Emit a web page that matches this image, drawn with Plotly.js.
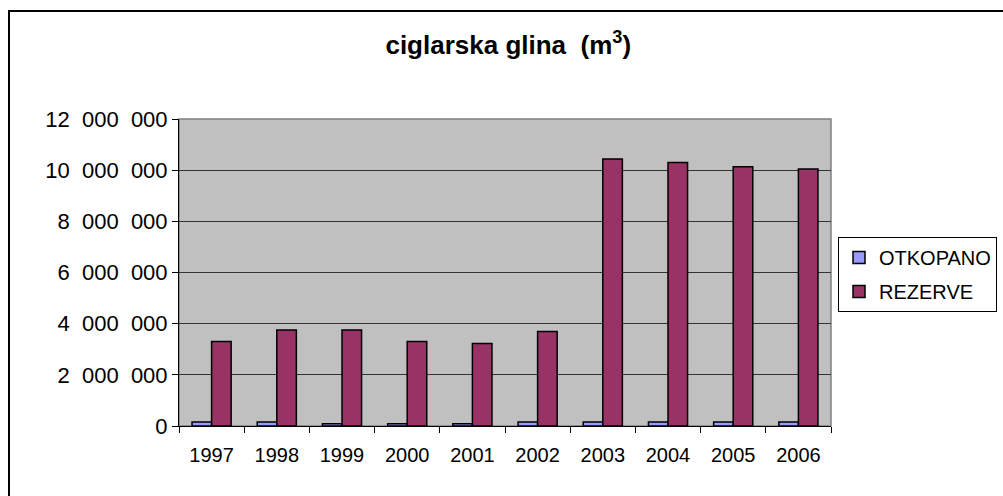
<!DOCTYPE html>
<html>
<head>
<meta charset="utf-8">
<script src="https://cdn.plot.ly/plotly-3.0.1.min.js"></script>
<style>
  html, body { margin: 0; padding: 0; background: #fff; overflow: hidden; }
  #wrap { position: relative; width: 1003px; height: 496px; overflow: hidden; }
  #chart { position: absolute; left: 0; top: 0; width: 1003px; height: 496px; }
  #frame { position: absolute; left: 8px; top: 10px; width: 1100px; height: 600px;
           border: 2px solid #000; pointer-events: none; box-sizing: border-box; }
</style>
</head>
<body>
<div id="wrap">
  <div id="chart"></div>
  <div id="frame"></div>
</div>
<script>
const years = ["1997","1998","1999","2000","2001","2002","2003","2004","2005","2006"];
const otkopano = [160000,160000,90000,90000,90000,160000,160000,160000,160000,160000];
const rezerve = [3300000,3750000,3750000,3300000,3220000,3690000,10440000,10300000,10130000,10050000];
const yTickVals = [0,2000000,4000000,6000000,8000000,10000000,12000000];
const yTickText = ["0","2\u2007000\u2007000","4\u2007000\u2007000","6\u2007000\u2007000","8\u2007000\u2007000","10\u2007000\u2007000","12\u2007000\u2007000"];

const font = "Liberation Sans, Arial, sans-serif";

const traces = [
  { type: "bar", name: "OTKOPANO", x: years, y: otkopano, legendgroup: "a",
    marker: { color: "#9999FF", line: { color: "#000", width: 1.5 } } },
  { type: "bar", name: "REZERVE", x: years, y: rezerve, legendgroup: "b",
    marker: { color: "#993366", line: { color: "#000", width: 1.5 } } }
];

const layout = {
  width: 1003, height: 496,
  margin: { l: 179, r: 172, t: 119, b: 70, pad: 0 },
  paper_bgcolor: "#ffffff",
  plot_bgcolor: "#C0C0C0",
  font: { family: font, color: "#000" },
  title: { text: "<b>ciglarska glina  (m<sup>3</sup>)</b>", font: { size: 26, family: font, color: "#000" },
           x: 0.505, xref: "paper", xanchor: "center", y: 0.91, yanchor: "middle" },
  barmode: "group",
  bargap: 0.4,
  bargroupgap: 0,
  showlegend: true,
  legend: { xref: "container", yref: "container", x: 0.8355, xanchor: "left", y: 0.522, yanchor: "top",
            bordercolor: "#000", borderwidth: 1, bgcolor: "#fff",
            font: { size: 20, family: font, color: "#000" },
            traceorder: "grouped", tracegroupgap: 5 },
  xaxis: { type: "category", showgrid: false, showline: true, linecolor: "#000", linewidth: 1,
           ticks: "outside", tickson: "boundaries", ticklen: 6, tickcolor: "#000",
           ticklabelstandoff: 11,
           tickfont: { size: 20, family: font, color: "#000" }, zeroline: false, automargin: false },
  yaxis: { range: [0, 12000000], tickvals: yTickVals, ticktext: yTickText,
           showgrid: true, gridcolor: "#333", gridwidth: 1,
           showline: true, linecolor: "#000", linewidth: 1,
           ticks: "outside", ticklen: 6, tickcolor: "#000",
           tickfont: { size: 22, family: font, color: "#000" }, zeroline: false, automargin: false },
  shapes: [
    { type: "rect", xref: "paper", yref: "paper", x0: 0, x1: 1, y0: 0, y1: 1,
      line: { color: "#808080", width: 1.5 }, fillcolor: "rgba(0,0,0,0)", layer: "below" }
  ]
};

Plotly.newPlot("chart", traces, layout, { displayModeBar: false, staticPlot: true });
</script>
</body>
</html>
